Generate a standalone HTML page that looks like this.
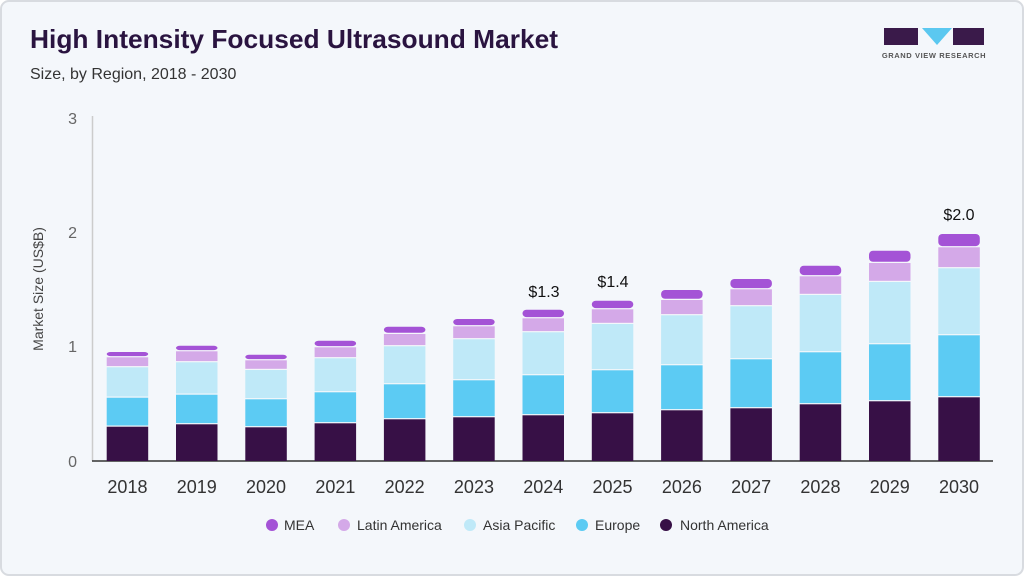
<!DOCTYPE html>
<html><head><meta charset="utf-8"><style>
body{margin:0;width:1024px;height:576px;overflow:hidden;background:#fff;font-family:"Liberation Sans",sans-serif}
</style></head><body>
<svg width="1024" height="576" xmlns="http://www.w3.org/2000/svg" font-family="Liberation Sans, sans-serif">
<rect x="1" y="1" width="1022" height="574" rx="8" fill="#f4f7fb" stroke="#d8dbe0" stroke-width="2"/>
<text x="30" y="48" font-size="26" font-weight="bold" fill="#2a1440" textLength="528" lengthAdjust="spacingAndGlyphs">High Intensity Focused Ultrasound Market</text>
<text x="30" y="79" font-size="16" fill="#333">Size, by Region, 2018 - 2030</text>
<rect x="884" y="28" width="34" height="17" fill="#3a1a4a"/>
<polygon points="922,28 952,28 937,45" fill="#5bc8f0"/>
<rect x="953" y="28" width="31" height="17" fill="#3a1a4a"/>
<text x="934" y="58" font-size="7.5" font-weight="bold" fill="#555" text-anchor="middle" letter-spacing="0.6">GRAND VIEW RESEARCH</text>
<line x1="92.5" y1="116" x2="92.5" y2="461" stroke="#ccc" stroke-width="1.5"/>
<line x1="92" y1="461" x2="993" y2="461" stroke="#333" stroke-width="1.5"/>
<g font-size="16" fill="#666" text-anchor="end">
<text x="77" y="124">3</text><text x="77" y="238">2</text><text x="77" y="352">1</text><text x="77" y="467">0</text></g>
<text transform="translate(43,289) rotate(-90)" font-size="14" fill="#444" text-anchor="middle">Market Size (US$B)</text>
<g id="bars"></g>
<g font-size="16" fill="#111" text-anchor="middle">
<text x="544" y="297">$1.3</text><text x="613" y="287">$1.4</text><text x="959" y="220">$2.0</text></g>
<g font-size="18" fill="#333" text-anchor="middle" id="yrs"></g>
<g font-size="14" fill="#333">
<circle cx="272" cy="525" r="6" fill="#a453d6"/><text x="284" y="530">MEA</text>
<circle cx="344" cy="525" r="6" fill="#d4a9e8"/><text x="357" y="530">Latin America</text>
<circle cx="470" cy="525" r="6" fill="#bfe9f8"/><text x="483" y="530">Asia Pacific</text>
<circle cx="582" cy="525" r="6" fill="#5ccbf3"/><text x="595" y="530">Europe</text>
<circle cx="666" cy="525" r="6" fill="#371046"/><text x="680" y="530">North America</text>
</g>
</svg>
<script>
var d=[[426.7,397.7,367.3,357.3,352],[424.3,394.7,362.3,351.3,345.7],[427.3,399.3,370,360.3,354.7],[423.3,392.3,358.3,347.3,340.7],[419.3,384.3,346.3,334,326.7],[417.3,380.3,339.3,326.3,319],[415.3,375.3,332.3,318.3,309.7],[413.3,370.3,324,309.3,300.7],[410.3,365.3,315.3,300,290],[408.3,359.3,306.3,289.3,279],[404.3,352.3,295,276.3,265.7],[401.3,344.3,282,263,250.7],[397.3,335.3,268.3,247.3,234]];
var c=["#371046","#5ccbf3","#bfe9f8","#d4a9e8","#a453d6"];
var ns="http://www.w3.org/2000/svg",g=document.getElementById("bars"),y=document.getElementById("yrs");
d.forEach(function(b,i){var x=106.7+i*69.3,prev=461;
b.forEach(function(t,k){var r=document.createElementNS(ns,"rect");r.setAttribute("x",x);r.setAttribute("width",41.5);
var h=prev-t;if(k>0)h=prev-t-1.2;r.setAttribute("y",t);r.setAttribute("height",Math.max(h,0));r.setAttribute("fill",c[k]);if(k==4){r.setAttribute("rx",4);}
g.appendChild(r);prev=t;});
var tx=document.createElementNS(ns,"text");tx.setAttribute("x",x+20.75);tx.setAttribute("y",493);tx.textContent=2018+i;y.appendChild(tx);});
</script>
</body></html>
